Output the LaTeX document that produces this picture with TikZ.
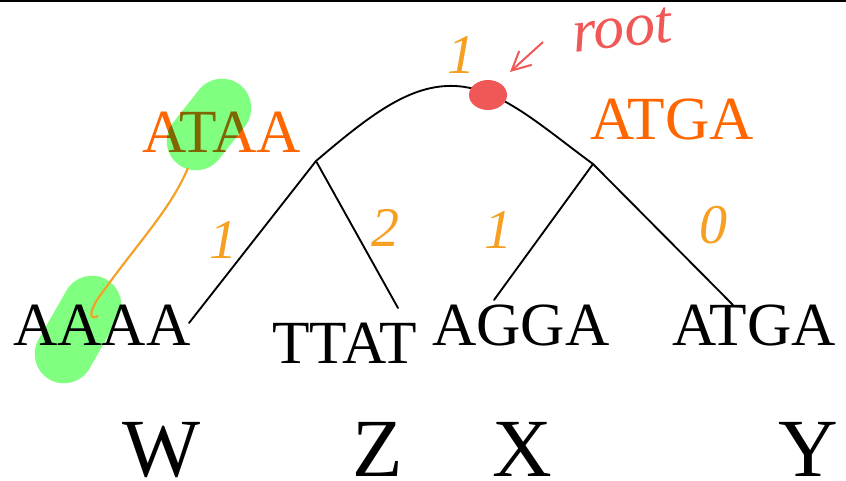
\documentclass[tikz,border=0pt]{standalone}
\usepackage{fontspec}
\setmainfont{Liberation Serif}
\usetikzlibrary{arrows.meta,positioning}
\definecolor{inner}{RGB}{255,102,0}
\definecolor{pen}{RGB}{245,160,35}
\definecolor{redpen}{RGB}{240,88,88}
\definecolor{hilite}{RGB}{128,255,128}

\begin{document}
\begin{tikzpicture}[x=0.75pt, y=-0.75pt,
    seq/.style={anchor=base west, inner sep=0pt, text=#1,
                font=\fontsize{46}{50}\selectfont},
    seq/.default=black,
    taxon/.style={anchor=base west, inner sep=0pt,
                  font=\fontsize{62}{66}\selectfont},
    hand/.style={inner sep=0pt, text=#1, font=\fontsize{42}{46}\selectfont\itshape},
    hand/.default=pen,
    edge/.style={line width=1.4pt, line cap=round},
    glow/.style={hilite, line width=44pt, line cap=round}
]
\useasboundingbox (0,0) rectangle (846,481);
\draw[line width=1.5pt] (0,1) -- (846,1);

% tree
\coordinate (u) at (316,161);
\coordinate (v) at (593,164);
\coordinate (top) at (455,86);
\coordinate (ea) at (189,323);
\coordinate (eb) at (398,308);
\coordinate (ec) at (494,300);
\coordinate (ed) at (733,305);
\draw[edge] (u) .. controls (370,115) and (410,84) .. (top)
               .. controls (500,88) and (540,125) .. (v);
\draw[edge] (u) -- (ea);
\draw[edge] (u) -- (eb);
\draw[edge] (v) -- (ec);
\draw[edge] (v) -- (ed);

% sequences
\node[seq] (aaaa) at (13,345) {AAAA};
\node[seq] (ttat) at (272,363) {TTAT};
\node[seq] (agga) at (432,345) {AGGA};
\node[seq] (atgaleaf) at (672,345) {ATGA};
\node[seq=inner] (ataa) at (142,153) {ATAA};
\node[seq=inner] (atga) at (590,140) {ATGA};

\node[taxon] (w) at (122,476) {W};
\node[taxon] (z) at (352,476) {Z};
\node[taxon] (x) at (492,476) {X};
\node[taxon] (y) at (778,476) {Y};

% notes
\begin{scope}[blend mode=multiply]
\draw[glow] (222,108) -- (196,141);
\draw[glow] (92,305) -- (64,354);
\end{scope}
\coordinate (hook) at (98,316);
\coordinate (hookend) at (188,168);
\draw[pen, line width=1.6pt] (hook) .. controls (86,322) and (92,305) .. (102,293)
    .. controls (140,240) and (170,210) .. (hookend);

\node[hand] (c1) at (223,240) {1};
\node[hand] (c2) at (385,228) {2};
\node[hand] (c3) at (498,230) {1};
\node[hand] (c4) at (713,225) {0};
\node[hand] (c0) at (461,55) {1};

\fill[redpen] (488,95) ellipse [x radius=19, y radius=15];
\coordinate (rootdot) at (510,72);
\node[hand=redpen, rotate=6, font=\fontsize{46}{50}\selectfont\itshape] (rootlbl) at (622,30) {root};
\coordinate (tail) at (543,42);
\draw[redpen, line width=1.5pt, -{Straight Barb[length=14pt, width=14pt]}] (tail) -- (rootdot);
\end{tikzpicture}
\end{document}
